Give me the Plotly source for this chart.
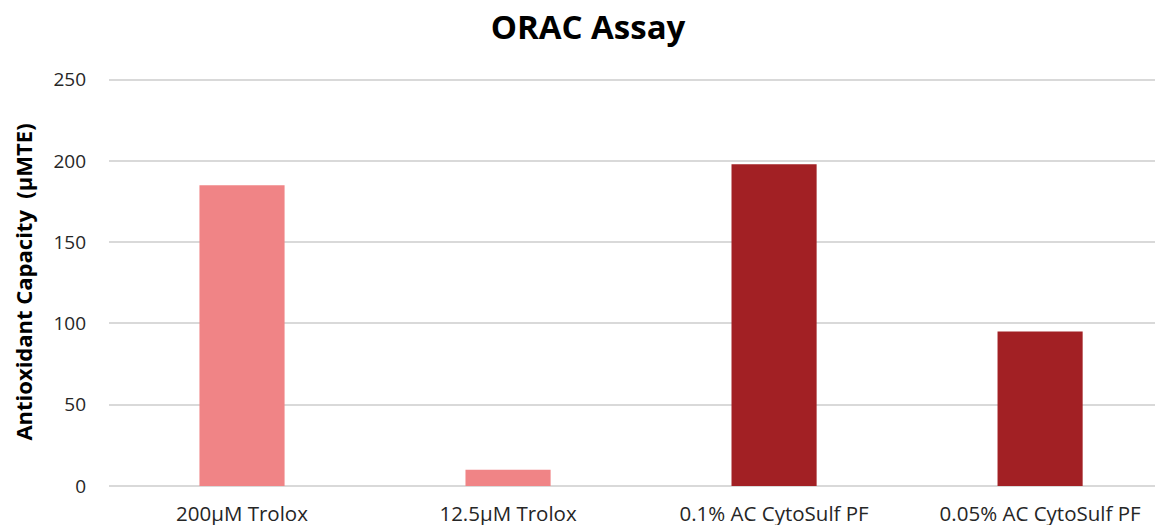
import plotly.graph_objects as go

categories = ["200µM Trolox", "12.5µM Trolox", "0.1% AC CytoSulf PF", "0.05% AC CytoSulf PF"]
values = [185, 10, 198, 95]
colors = ["#F08486", "#F08486", "#A22024", "#A22024"]
y_ticks = [0, 50, 100, 150, 200, 250]

fig = go.Figure(go.Bar(x=categories, y=values, marker=dict(color=colors, line=dict(width=0)), width=0.32))

fig.update_layout(
    width=1155, height=517,
    margin=dict(l=101, r=0, t=70, b=39),
    paper_bgcolor="white", plot_bgcolor="white",
    font=dict(family="Open Sans, Liberation Sans, sans-serif", color="#262626"),
    title=dict(text="<b>ORAC Assay</b>", x=580 / 1155, xanchor="center", y=1 - 19 / 517, yanchor="middle",
               font=dict(size=33, color="#000000")),
    showlegend=False,
)
fig.update_xaxes(range=[-0.5, 3.462], showgrid=False, showline=False, ticks="", automargin=False,
                 tickfont=dict(size=20.5, color="#262626"), ticklabelstandoff=13)
fig.update_yaxes(range=[0, 251], tickvals=y_ticks, showgrid=True, gridcolor="#D9D9D9", gridwidth=1.5,
                 zeroline=True, zerolinecolor="#D9D9D9", zerolinewidth=1.5, automargin=False,
                 tickfont=dict(size=19, color="#262626"), ticklabelstandoff=22,
                 title=dict(text="<b>Antioxidant Capacity  (µMTE)</b>", font=dict(size=22, color="#000000"), standoff=19))

fig.write_html("out.html")
